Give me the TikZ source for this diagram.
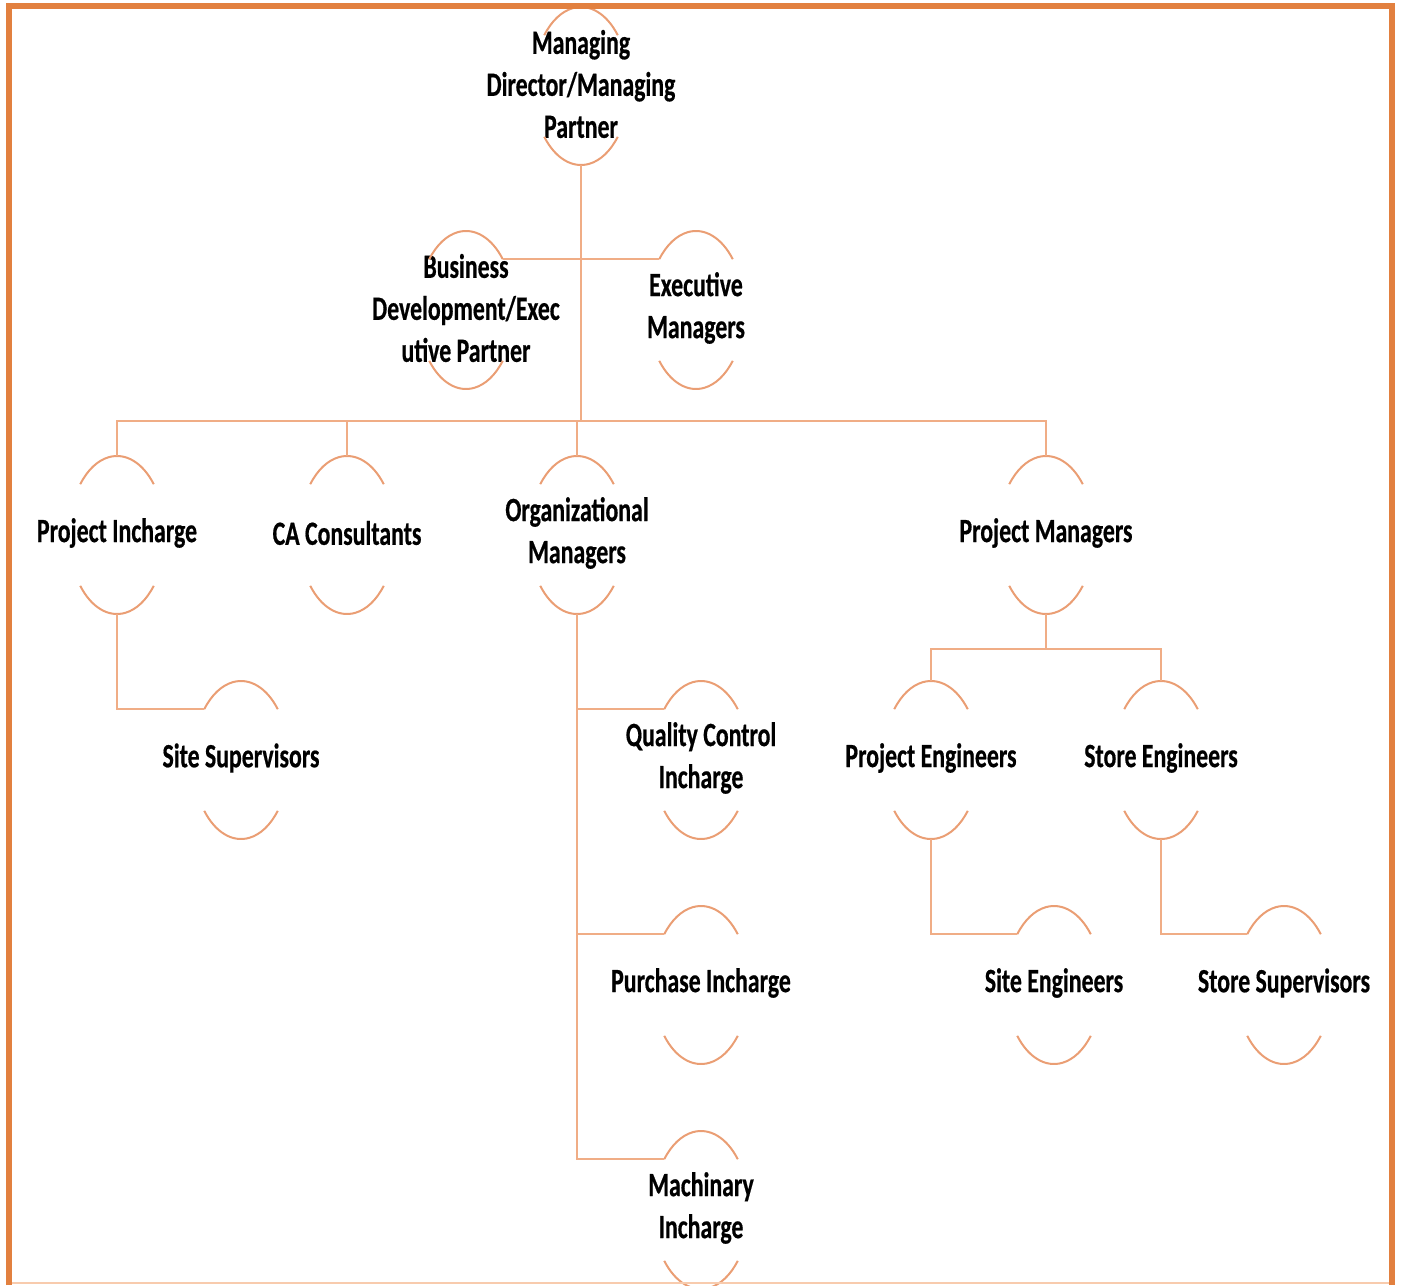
\documentclass[tikz,border=0pt]{standalone}
\usepackage{fontspec}
\setmainfont{Carlito}[FakeStretch=0.70, BoldFeatures={FakeBold=0.5}]
\usepackage{xcolor}
\definecolor{AccentOrange}{HTML}{E2803F}
\definecolor{HoopOrange}{HTML}{EA9E74}
\definecolor{LinkOrange}{HTML}{F0AD86}
\definecolor{EdgeOrange}{HTML}{F8CBAD}
\usepackage{tikz}

\begin{document}
\begin{tikzpicture}[x=0.5pt, y=0.5pt, every node/.style={font=\bfseries\fontsize{17}{21}\selectfont, align=center, inner sep=0pt},
  link/.style={draw=LinkOrange, line width=1pt}, hoop/.style={draw=HoopOrange, line width=1pt}]
  \useasboundingbox (0,0) rectangle (1402,-1285);
  \node (md) at (581,-84) {Managing\\Director/Managing\\Partner};
  \node (bdev) at (466,-308) {Business\\Development/Exec\\utive Partner};
  \node (exec) at (696,-308) {Executive\\Managers};
  \node (pinc) at (117,-533) {Project Incharge};
  \node (cacons) at (347,-533) {CA Consultants};
  \node (orgm) at (577,-533) {Organizational\\Managers};
  \node (pman) at (1046,-533) {Project Managers};
  \node (ssup) at (241,-758) {Site Supervisors};
  \node (qci) at (701,-758) {Quality Control\\Incharge};
  \node (peng) at (931,-758) {Project Engineers};
  \node (steng) at (1161,-758) {Store Engineers};
  \node (purch) at (701,-983) {Purchase Incharge};
  \node (sieng) at (1054,-983) {Site Engineers};
  \node (stsup) at (1284,-983) {Store Supervisors};
  \node (mach) at (701,-1208) {Machinary\\Incharge};
  \foreach \n in {md,bdev,exec,pinc,cacons,orgm,pman,ssup,qci,peng,steng,purch,sieng,stsup,mach} {
    \path (\n.center) ++(0,-2) coordinate (\n-c);
    \draw[hoop] (\n-c) ++(40:48 and 79) arc[start angle=40, end angle=140, x radius=48, y radius=79];
    \draw[hoop] (\n-c) ++(220:48 and 79) arc[start angle=220, end angle=320, x radius=48, y radius=79];
    \path (\n-c) ++(0,79) coordinate (\n-t) (\n-c) ++(0,-79) coordinate (\n-b)
      (\n-c) ++(140:48 and 79) coordinate (\n-l) (\n-c) ++(40:48 and 79) coordinate (\n-r);
  }
  \coordinate (bar) at (581,-421);
  \coordinate (pmbar) at (1046,-649);
  \draw[link] (md-b) -- (bar);
  \draw[link] (md-b) |- (bdev-r);
  \draw[link] (md-b) |- (exec-l);
  \foreach \n in {pinc,cacons,orgm,pman} \draw[link] (\n-t) |- (bar);
  \draw[link] (pinc-b) |- (ssup-l);
  \foreach \n in {qci,purch,mach} \draw[link] (orgm-b) |- (\n-l);
  \draw[link] (pman-b) -- (pmbar);
  \foreach \n in {peng,steng} \draw[link] (\n-t) |- (pmbar);
  \draw[link] (peng-b) |- (sieng-l);
  \draw[link] (steng-b) |- (stsup-l);
  \draw[draw=EdgeOrange, line width=1.2pt] (9,-1283) -- (1392,-1283);
  \draw[draw=AccentOrange, line width=2.6pt] (9,-1285) -- (9,-6) -- (1392,-6) -- (1392,-1285);
\end{tikzpicture}
\end{document}
